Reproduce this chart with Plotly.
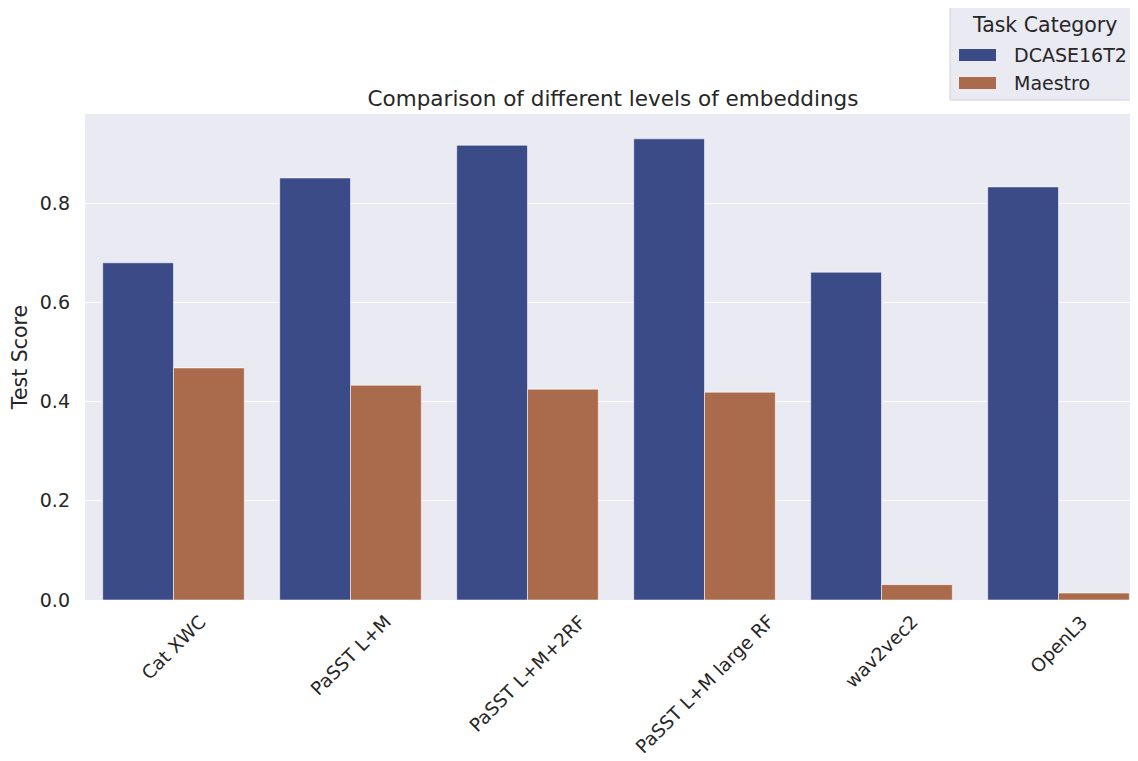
import plotly.graph_objects as go

categories = ["Cat XWC", "PaSST L+M", "PaSST L+M+2RF", "PaSST L+M large RF", "wav2vec2", "OpenL3"]
dcase_scores = [0.680, 0.851, 0.917, 0.930, 0.661, 0.833]
maestro_scores = [0.468, 0.433, 0.425, 0.419, 0.031, 0.014]
series_names = ["DCASE16T2", "Maestro"]
series_colors = ["rgb(59,75,135)", "rgb(170,106,76)"]
y_ticks = [0.0, 0.2, 0.4, 0.6, 0.8]

font = "DejaVu Sans"
text_color = "#262626"
tick_size = 19
xlabel_size = 18.5
title_size = 20.5
main_title_size = 21.5

# page is offset by the 8px default body margin
OFF = 8
W, H = 1138 - OFF, 761 - OFF
ml, mr, mt, mb = 85 - OFF, 0, 114 - OFF, 761 - 600
plot_w = W - ml - mr
plot_h = H - mt - mb
plot_bottom = H - mb
cat_px = 177.0
x_max = -0.5 + plot_w / cat_px


def px(page_x):
    return (page_x - OFF - ml) / plot_w


def py(page_y):
    return (plot_bottom - (page_y - OFF)) / plot_h


fig = go.Figure()
for name, vals, col in zip(series_names, [dcase_scores, maestro_scores], series_colors):
    fig.add_trace(go.Bar(
        x=categories, y=vals, name=name, showlegend=False,
        marker=dict(color=col, line=dict(color="rgba(255,255,255,0.55)", width=1)),
    ))

# category labels rotated about their centre (matplotlib-style)
for c in categories:
    fig.add_annotation(
        x=c, xref="x", y=0, yref="paper", yshift=-10,
        text=c, textangle=-45, showarrow=False,
        xanchor="center", yanchor="top", borderpad=0,
        font=dict(family=font, size=xlabel_size, color=text_color),
    )

# legend drawn by hand to match the seaborn legend box
fig.add_shape(type="rect", xref="paper", yref="paper",
              x0=px(950), x1=px(1137), y0=py(100), y1=py(7),
              fillcolor="#EAEAF2", line=dict(color="#D2D2DA", width=1), layer="above")
fig.add_annotation(x=px(1044), y=py(25), xref="paper", yref="paper",
                   text="Task Category", showarrow=False, xanchor="center", yanchor="middle",
                   font=dict(family=font, size=title_size, color=text_color))
for i, (name, col) in enumerate(zip(series_names, series_colors)):
    yc = 55 + i * 28
    fig.add_shape(type="rect", xref="paper", yref="paper",
                  x0=px(959), x1=px(996), y0=py(yc + 6), y1=py(yc - 6),
                  fillcolor=col, line=dict(width=0), layer="above")
    fig.add_annotation(x=px(1012), y=py(yc), xref="paper", yref="paper",
                       text=name, showarrow=False, xanchor="left", yanchor="middle",
                       font=dict(family=font, size=tick_size, color=text_color))

fig.update_layout(
    width=W, height=H,
    margin=dict(l=ml, r=mr, t=mt, b=mb, pad=0),
    paper_bgcolor="white",
    plot_bgcolor="#EAEAF2",
    barmode="group",
    bargap=0.2,
    bargroupgap=0,
    showlegend=False,
    font=dict(family=font, size=tick_size, color=text_color),
    title=dict(
        text="Comparison of different levels of embeddings",
        font=dict(family=font, size=main_title_size, color=text_color),
        x=(613 - OFF) / W, xanchor="center", xref="container",
        y=1 - (98 - OFF) / H, yanchor="middle", yref="container",
    ),
    xaxis=dict(
        range=[-0.5, x_max],
        showticklabels=False,
        showgrid=False,
        zeroline=False,
        ticks="",
    ),
    yaxis=dict(
        range=[0, 0.98],
        tickvals=y_ticks,
        tickformat=".1f",
        showgrid=True,
        gridcolor="white",
        gridwidth=1.3,
        zeroline=False,
        ticks="",
        ticklabelstandoff=14,
        tickfont=dict(family=font, size=tick_size, color=text_color),
        title=dict(text="Test Score", font=dict(family=font, size=title_size, color=text_color), standoff=9),
    ),
)

fig.write_html("out.html")
